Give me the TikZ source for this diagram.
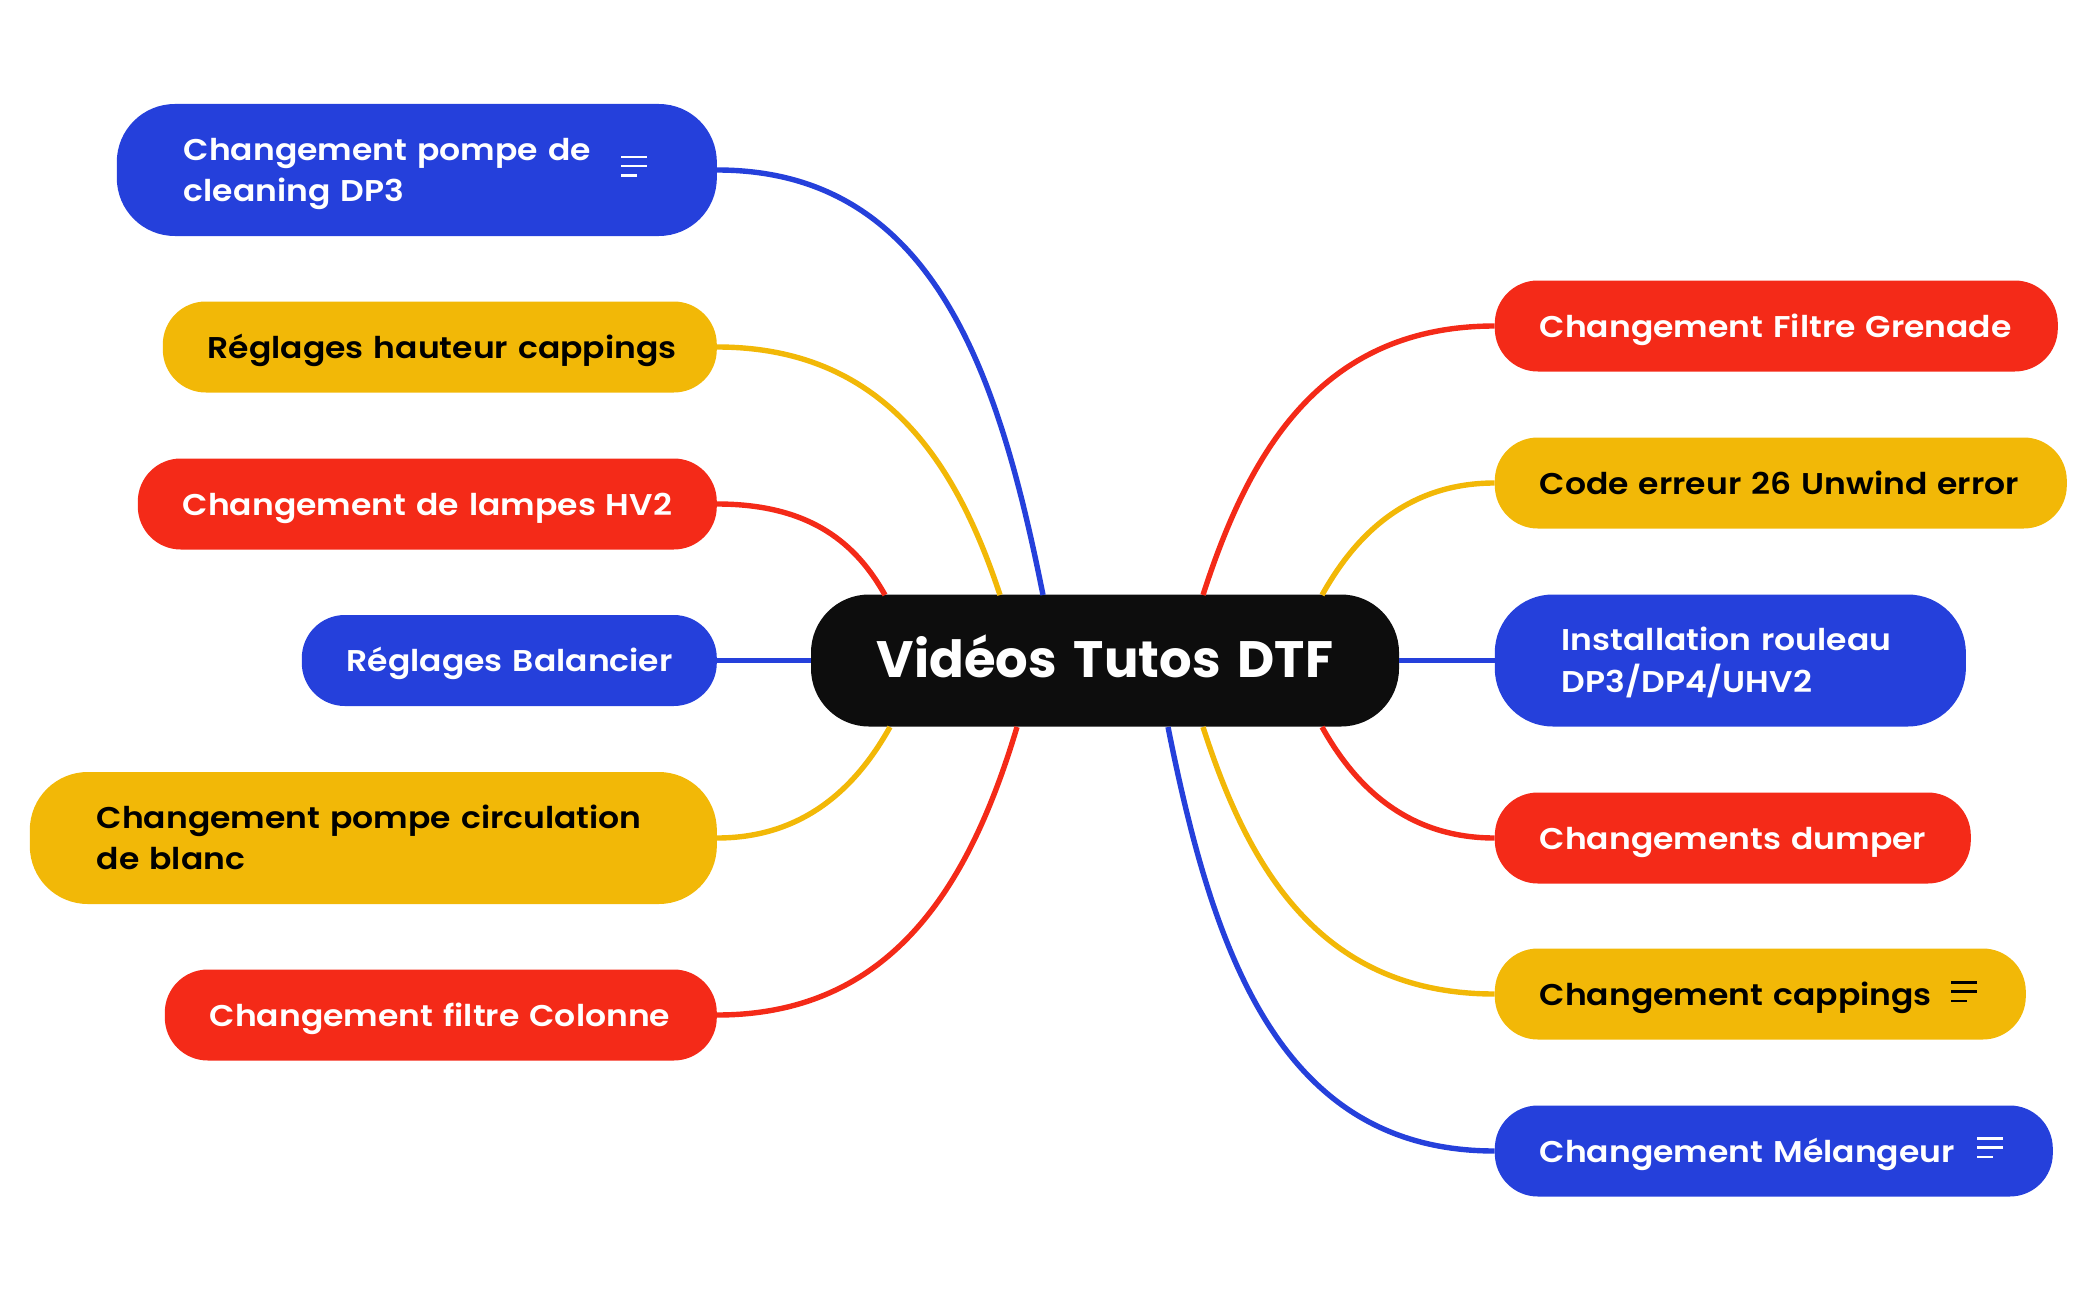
\documentclass[tikz,border=0pt]{standalone}
\usepackage{fontspec}
\setmainfont[FakeStretch=1.1]{Poppins SemiBold}
\newfontfamily\titlefont{Poppins Bold}
\definecolor{mapblue}{HTML}{2540DB}
\definecolor{mapyellow}{HTML}{F2B807}
\definecolor{mapred}{HTML}{F42A18}
\definecolor{mapblack}{HTML}{0D0D0D}
\newcommand{\linestrut}{\rule[-9.75pt]{0pt}{41.5pt}}
\tikzstyle{block} = [rectangle, anchor=west, inner ysep=0pt, inner xsep=45pt, minimum height=91pt, rounded corners=43pt, align=left, font=\fontsize{30}{41.5}\selectfont, execute at begin node=\linestrut, execute at end node=\linestrut]
\tikzstyle{tall} = [minimum height=132pt, inner xsep=67pt, rounded corners=58pt]
\tikzstyle{link} = [line width=5.4pt]
\newcommand{\notelines}[4]{
	\foreach \y/\l in {0/26, 9/26, 18.5/16}
		\draw[#4, line width=2.5pt] (#1,#2+\y) -- ++(\l*#3,0);
}

\begin{document}
\begin{tikzpicture}[x=1pt, y=-1pt]
	\useasboundingbox (0,0) rectangle (2098,1300);

	% middle
	\node (VIDEOS) [block, tall, anchor=center, fill=mapblack, text=white, text width=458pt, inner xsep=65pt, align=center, font=\fontsize{51.2}{41.5}\selectfont\titlefont] at (1105,660.5) {\raisebox{-2pt}{Vidéos Tutos DTF}};

	% left side
	\node (POMPE_DP3) [block, tall, anchor=east, fill=mapblue, text=white, text width=466pt] at (717,170) {Changement pompe de\\cleaning DP3};
	\node (HAUTEUR) [block, anchor=east, fill=mapyellow, text=black, text width=464pt] at (717,347) {\mbox{Réglages hauteur cappings}};
	\node (LAMPES) [block, anchor=east, fill=mapred, text=white, text width=489pt] at (717,504) {\mbox{Changement de lampes HV2}};
	\node (BALANCIER) [block, anchor=east, fill=mapblue, text=white, text width=325pt] at (717,660.5) {\mbox{Réglages Balancier}};
	\node (CIRCULATION) [block, tall, anchor=east, fill=mapyellow, text=black, text width=553pt] at (717,838) {Changement pompe circulation\\de blanc};
	\node (COLONNE) [block, anchor=east, fill=mapred, text=white, text width=462pt] at (717,1015) {\mbox{Changement filtre Colonne}};

	% right side
	\node (GRENADE) [block, fill=mapred, text=white, text width=473pt] at (1494.6,326) {\mbox{Changement Filtre Grenade}};
	\node (UNWIND) [block, fill=mapyellow, text=black, text width=482pt] at (1494.6,483) {\mbox{Code erreur 26 Unwind error}};
	\node (ROULEAU) [block, tall, fill=mapblue, text=white, text width=337pt] at (1494.6,660.5) {Installation rouleau\\DP3/DP4/UHV2};
	\node (DUMPER) [block, fill=mapred, text=white, text width=386pt] at (1494.6,838) {\mbox{Changements dumper}};
	\node (CAPPINGS) [block, fill=mapyellow, text=black, text width=441pt] at (1494.6,994) {\mbox{Changement cappings}};
	\node (MELANGEUR) [block, fill=mapblue, text=white, text width=468pt] at (1494.6,1151) {\mbox{Changement Mélangeur}};

	\coordinate (TOP_A) at (1043,595);
	\coordinate (TOP_B) at (1000,595);
	\coordinate (TOP_C) at (885,595);
	\coordinate (TOP_D) at (1203,595);
	\coordinate (TOP_E) at (1322,595);
	\coordinate (BOTTOM_A) at (890,727);
	\coordinate (BOTTOM_B) at (1017,727);
	\coordinate (BOTTOM_C) at (1322,727);
	\coordinate (BOTTOM_D) at (1203,727);
	\coordinate (BOTTOM_E) at (1168,727);

	\draw[link, mapblue](POMPE_DP3.east) .. controls +(215,0) and +(-45,-225) .. (TOP_A);
	\draw[link, mapyellow](HAUTEUR.east) .. controls +(168,0) and +(-43,-130) .. (TOP_B);
	\draw[link, mapred](LAMPES.east) .. controls +(95,0) and +(-28,-50) .. (TOP_C);
	\draw[link, mapblue](BALANCIER.east) -- (VIDEOS.west);
	\draw[link, mapyellow](CIRCULATION.east) .. controls +(95,0) and +(-28,50) .. (BOTTOM_A);
	\draw[link, mapred](COLONNE.east) .. controls +(180,0) and +(-45,150) .. (BOTTOM_B);
	\draw[link, mapred](GRENADE.west) .. controls +(-175,0) and +(45,-140) .. (TOP_D);
	\draw[link, mapyellow](UNWIND.west) .. controls +(-95,0) and +(28,-50) .. (TOP_E);
	\draw[link, mapblue](ROULEAU.west) -- (VIDEOS.east);
	\draw[link, mapred](DUMPER.west) .. controls +(-95,0) and +(28,50) .. (BOTTOM_C);
	\draw[link, mapyellow](CAPPINGS.west) .. controls +(-175,0) and +(45,140) .. (BOTTOM_D);
	\draw[link, mapblue](MELANGEUR.west) .. controls +(-215,0) and +(45,225) .. (BOTTOM_E);

	\notelines{621}{157}{1}{white}
	\notelines{1951}{982.5}{1}{black}
	\notelines{1977}{1138.5}{1}{white}
\end{tikzpicture}
\end{document}
